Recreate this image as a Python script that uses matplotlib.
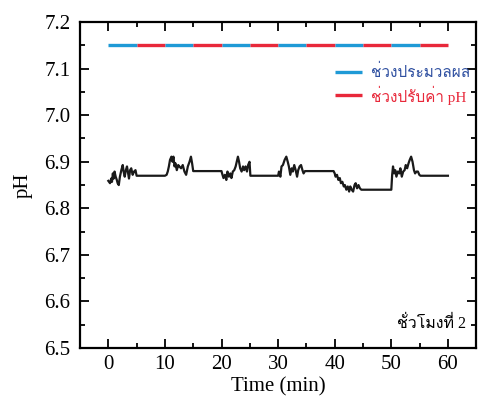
import matplotlib
matplotlib.use("Agg")
import matplotlib.pyplot as plt
from matplotlib import font_manager
from matplotlib.ft2font import FT2Font
from matplotlib.ticker import MultipleLocator

# ---- find a font with Thai glyphs ----
def find_thai_font():
    best = None
    for f in font_manager.fontManager.ttflist:
        try:
            cm = FT2Font(f.fname).get_charmap()
        except Exception:
            continue
        if 0x0E0A in cm and 0x0E48 in cm:
            name = f.name
            if best is None:
                best = name
            if any(k in name for k in ("Serif", "Norasi", "Kinnari", "Loma", "Tlwg")):
                return name
    return best

THAI = find_thai_font()
thai_family = ["Liberation Serif"] + ([THAI] if THAI else []) + ["DejaVu Sans"]

# ---- data ----
seg_start = [0, 5, 10, 15, 20, 25, 30, 35, 40, 45, 50, 55]
seg_phase = ["p", "a", "p", "a", "p", "a", "p", "a", "p", "a", "p", "a"]
band_ph = 7.15

time_min = [
    0, 0.3, 0.5, 0.65, 0.8, 0.95, 1.1, 1.3, 1.5, 1.65, 1.85, 2.05, 2.3, 2.55, 2.7,
    2.9, 3.1, 3.3, 3.5, 3.65, 3.85, 4.05, 4.3, 4.55, 4.8, 5.0,
    10.0,
    10.3, 10.5, 10.7, 10.9, 11.15, 11.35, 11.5, 11.7, 11.85, 12.1, 12.35, 12.55,
    12.85, 13.15, 13.45, 13.75, 14.05, 14.35, 14.6, 14.8, 15.0,
    20.0, 20.1, 20.35, 20.6, 20.85, 21.05, 21.3, 21.55, 21.75, 22.0, 22.25, 22.5,
    22.7, 22.9, 23.1, 23.3, 23.55, 23.8, 24.0, 24.25, 24.5, 24.7, 24.95, 25.1,
    30.0, 30.15, 30.4, 30.6, 30.85, 31.15, 31.45, 31.7, 31.9, 32.15, 32.4, 32.6,
    32.85, 33.1, 33.35, 33.55, 33.8, 34.05, 34.3, 34.5, 34.75,
    39.8, 40.0, 40.15, 40.4, 40.65, 40.9, 41.1, 41.35, 41.6, 41.8, 42.05, 42.3,
    42.55, 42.75, 43.0, 43.25, 43.5, 43.7, 43.95, 44.2, 44.45, 44.7, 44.9,
    50.0, 50.15, 50.3, 50.5, 50.7, 50.9, 51.15, 51.4, 51.6, 51.85, 52.1, 52.35,
    52.55, 52.8, 53.05, 53.25, 53.5, 53.75, 54.0, 54.2, 54.45, 54.7, 54.95, 55.15,
    60.0,
]
ph_values = [
    6.859, 6.854, 6.864, 6.857, 6.875, 6.864, 6.879, 6.868, 6.861, 6.854, 6.850,
    6.868, 6.882, 6.893, 6.879, 6.868, 6.882, 6.890, 6.875, 6.864, 6.882, 6.886,
    6.872, 6.879, 6.882, 6.870,
    6.870,
    6.872, 6.879, 6.890, 6.904, 6.911, 6.900, 6.911, 6.890, 6.897, 6.882, 6.893,
    6.890, 6.886, 6.893, 6.879, 6.872, 6.890, 6.900, 6.911, 6.897, 6.880,
    6.880, 6.875, 6.865, 6.872, 6.861, 6.879, 6.868, 6.875, 6.865, 6.879, 6.882,
    6.890, 6.900, 6.911, 6.900, 6.886, 6.879, 6.890, 6.882, 6.890, 6.879, 6.893,
    6.900, 6.870,
    6.870, 6.879, 6.868, 6.890, 6.893, 6.904, 6.911, 6.900, 6.890, 6.872, 6.886,
    6.879, 6.893, 6.882, 6.868, 6.882, 6.890, 6.893, 6.882, 6.875, 6.880,
    6.880, 6.875, 6.868, 6.872, 6.861, 6.865, 6.854, 6.857, 6.847, 6.850, 6.840,
    6.847, 6.836, 6.847, 6.840, 6.836, 6.850, 6.854, 6.843, 6.850, 6.843, 6.840,
    6.840,
    6.840, 6.872, 6.890, 6.875, 6.882, 6.868, 6.879, 6.875, 6.886, 6.868, 6.879,
    6.882, 6.893, 6.886, 6.897, 6.904, 6.911, 6.900, 6.882, 6.875, 6.879, 6.879,
    6.872, 6.870,
    6.870,
]

xticks = [0, 10, 20, 30, 40, 50, 60]
yticks = [6.5, 6.6, 6.7, 6.8, 6.9, 7.0, 7.1, 7.2]
legend_labels = ["ช่วงประมวลผล", "ช่วงปรับค่า pH"]
note_text = "ชั่วโมงที่ 2"

C_BLUE = "#1f9ad6"
C_RED = "#e8283a"

fig = plt.figure(figsize=(4.82, 4.01), dpi=100)
ax = fig.add_axes([0.166, 0.132, 0.822, 0.813])

# top band
for i, s in enumerate(seg_start):
    e = seg_start[i + 1] if i + 1 < len(seg_start) else 60
    ax.plot([s, e], [band_ph, band_ph], color=C_BLUE if seg_phase[i] == "p" else C_RED,
            lw=2.4, solid_capstyle="butt")

ax.plot(time_min, ph_values, color="#1a1a1a", lw=1.6)

ax.set_xlim(-5, 65)
ax.set_ylim(6.5, 7.2)
ax.set_xticks(xticks)
ax.set_yticks(yticks)
ax.set_yticklabels([f"{v:.1f}" for v in yticks])
ax.xaxis.set_minor_locator(MultipleLocator(5))
ax.yaxis.set_minor_locator(MultipleLocator(0.05))
ax.tick_params(which="both", direction="in", top=True, right=True, width=1.3)
ax.tick_params(which="major", length=6.5, labelsize=15)
ax.tick_params(axis="y", which="major", pad=7)
ax.tick_params(axis="x", which="major", pad=5)
ax.tick_params(which="minor", length=3.5)
for lab in ax.get_xticklabels() + ax.get_yticklabels():
    lab.set_family("Liberation Serif")
for sp in ax.spines.values():
    sp.set_linewidth(1.6)

ax.set_xlabel("Time (min)", family="Liberation Serif", fontsize=15, labelpad=2)
ax.set_ylabel("pH", family="Liberation Serif", fontsize=15, labelpad=8)

# legend (manual, in axes coords)
leg_y = [0.847, 0.776]
leg_colors = [C_BLUE, C_RED]
text_colors = ["#2e4fa0", "#e8283a"]
for yy, lc, tc, lab in zip(leg_y, leg_colors, text_colors, legend_labels):
    ax.plot([0.643, 0.712], [yy, yy], color=lc, lw=2.4, transform=ax.transAxes,
            solid_capstyle="butt")
    ax.text(0.735, yy, lab, color=tc, fontsize=11, family=thai_family,
            transform=ax.transAxes, va="center", ha="left")

ax.text(0.975, 0.075, note_text, color="black", fontsize=11.5, family=thai_family,
        transform=ax.transAxes, va="center", ha="right")

fig.savefig("out.png", dpi=100)
